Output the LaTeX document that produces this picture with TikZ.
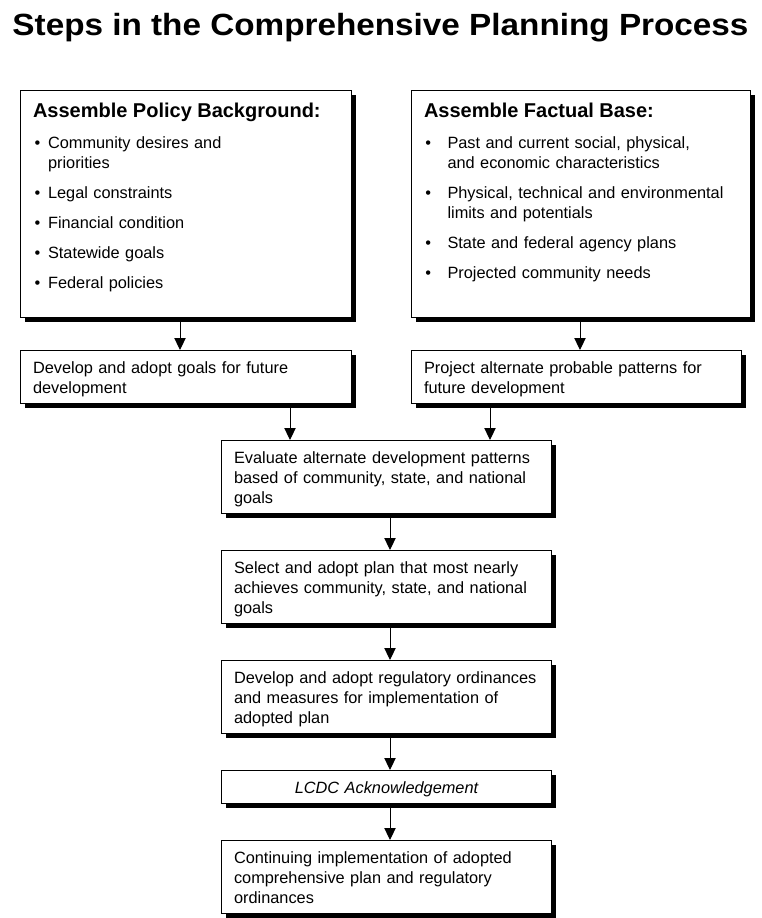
\documentclass[tikz,border=0pt]{standalone}
\usepackage{fontspec}
\usepackage{graphicx}
\setmainfont{Liberation Sans}
\usetikzlibrary{arrows.meta,shadows}
\newcommand\bodyfont{\fontsize{12.25pt}{15pt}\selectfont}
\newcommand\hdrfont{\fontsize{15pt}{18pt}\selectfont\bfseries}
\newcommand\bulA{\makebox[11.25pt][l]{\hspace{1.2pt}\textbullet}}
\newcommand\contA{\hspace*{11.25pt}}
\newcommand\bulB{\makebox[17.6pt][l]{\hspace{1.0pt}\textbullet}}
\newcommand\contB{\hspace*{17.6pt}}
\begin{document}
\begin{tikzpicture}[x=0.75pt,y=-0.75pt,
  box/.style={draw=black, line width=0.75pt, fill=white, anchor=north west,
    inner ysep=0pt, inner xsep=9.4pt, align=left, font=\bodyfont,
    text height=16.9pt,
    drop shadow={shadow xshift=3pt, shadow yshift=-3pt, fill=black, opacity=1}},
  bigbox/.style={box, text height=20.25pt, text depth=150pt},
  twoline/.style={box, text depth=22.85pt},
  threeline/.style={box, text width=228.7pt, text depth=37.85pt},
  arr/.style={draw=black, line width=0.75pt, -{Triangle[width=8.5pt,length=9pt]}}]
\useasboundingbox (0,0) rectangle (762,918);
\fill[white] (0,0) rectangle (762,918);

\node[font=\fontsize{23pt}{28pt}\selectfont\bfseries, anchor=base, inner sep=0pt] (title) at (380.5,35)
  {\resizebox{552pt}{\height}{Steps in the Comprehensive Planning Process}};

\node[bigbox, text width=229.45pt] (pol) at (20,90)
  {{\hdrfont Assemble Policy Background:}\\[8.25pt]
   \bulA Community desires and\\
   \contA priorities\\[7.5pt]
   \bulA Legal constraints\\[7.5pt]
   \bulA Financial condition\\[7.5pt]
   \bulA Statewide goals\\[7.5pt]
   \bulA Federal policies};

\node[bigbox, text width=235.45pt] (fac) at (411,90)
  {{\hdrfont Assemble Factual Base:}\\[8.25pt]
   \bulB \mbox{Past and current social, physical,}\\
   \contB \mbox{and economic characteristics}\\[7.5pt]
   \bulB \mbox{Physical, technical and environmental}\\
   \contB \mbox{limits and potentials}\\[7.5pt]
   \bulB \mbox{State and federal agency plans}\\[7.5pt]
   \bulB \mbox{Projected community needs}};

\node[twoline, text width=229.45pt] (goals) at (20,350)
  {\mbox{Develop and adopt goals for future}\\development};
\node[twoline, text width=228.7pt] (proj) at (411,350)
  {\mbox{Project alternate probable patterns for}\\future development};

\node[threeline] (eval) at (221,440)
  {\mbox{Evaluate alternate development patterns}\\\mbox{based of community, state, and national}\\goals};
\node[threeline] (sel) at (221,550)
  {\mbox{Select and adopt plan that most nearly}\\\mbox{achieves community, state, and national}\\goals};
\node[threeline] (reg) at (221,660)
  {\mbox{Develop and adopt regulatory ordinances}\\\mbox{and measures for implementation of}\\adopted plan};
\node[box, text width=228.7pt, text depth=7.85pt, align=center] (lcdc) at (221,770)
  {\itshape LCDC Acknowledgement};
\node[threeline] (cont) at (221,840)
  {\mbox{Continuing implementation of adopted}\\\mbox{comprehensive plan and regulatory}\\ordinances};

\coordinate (xa) at (180,0);
\coordinate (xb) at (580,0);
\coordinate (xc) at (290,0);
\coordinate (xd) at (490,0);
\coordinate (xe) at (390,0);

\draw[arr] (pol.south -| xa) -- (goals.north -| xa);
\draw[arr] (fac.south -| xb) -- (proj.north -| xb);
\draw[arr] (goals.south -| xc) -- (eval.north -| xc);
\draw[arr] (proj.south -| xd) -- (eval.north -| xd);
\draw[arr] (eval.south -| xe) -- (sel.north -| xe);
\draw[arr] (sel.south -| xe) -- (reg.north -| xe);
\draw[arr] (reg.south -| xe) -- (lcdc.north -| xe);
\draw[arr] (lcdc.south -| xe) -- (cont.north -| xe);
\end{tikzpicture}
\end{document}
